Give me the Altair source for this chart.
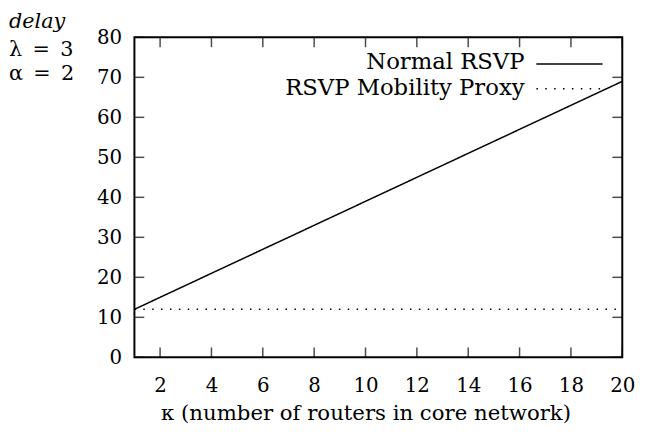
import altair as alt
import pandas as pd

kappa = list(range(1, 21))
normal_rsvp = [12, 15, 18, 21, 24, 27, 30, 33, 36, 39, 42, 45, 48, 51, 54, 57, 60, 63, 66, 69]
proxy_rsvp = [12] * 20
series_names = ["Normal RSVP", "RSVP Mobility Proxy"]
x_ticks = [2, 4, 6, 8, 10, 12, 14, 16, 18, 20]
y_ticks = [0, 10, 20, 30, 40, 50, 60, 70, 80]
x_title = "κ (number of routers in core network)"
side_notes = ["delay", "λ\u2002=\u20023", "α\u2002=\u20022"]

W, H = 494, 324
FONT = "DejaVu Serif"
FS = 20

df = pd.DataFrame({
    "k": kappa * 2,
    "v": normal_rsvp + proxy_rsvp,
    "s": [series_names[0]] * 20 + [series_names[1]] * 20,
})

xscale = alt.Scale(domain=[1, 20], nice=False, zero=False)
yscale = alt.Scale(domain=[0, 80], nice=False)
xaxis = alt.Axis(values=x_ticks, title=x_title, tickSize=0, labelPadding=19,
                 labelFlush=False, titlePadding=7, titleFontSize=21.5, titleX=234,
                 titleAnchor="middle", domain=False, grid=False)
yaxis = alt.Axis(values=y_ticks, title=None, tickSize=0, labelPadding=13,
                 labelFlush=False, domain=False, grid=False)

X = lambda f: alt.X(f, type="quantitative", scale=xscale, axis=xaxis)
Y = lambda f: alt.Y(f, type="quantitative", scale=yscale, axis=yaxis)

lines = alt.Chart(df).mark_line(color="black", strokeWidth=1.5).encode(
    x=X("k"), y=Y("v"),
    strokeDash=alt.StrokeDash("s:N", scale=alt.Scale(domain=series_names, range=[[1, 0], [1.5, 7.5]]), legend=None),
    detail="s:N",
)

xt = pd.DataFrame({"t": x_ticks})
yt = pd.DataFrame({"t": y_ticks})
xtick_b = alt.Chart(xt).mark_tick(orient="vertical", size=10, thickness=1.5, color="black").encode(x=X("t"), y=alt.value(H - 5))
xtick_t = alt.Chart(xt).mark_tick(orient="vertical", size=10, thickness=1.5, color="black").encode(x=X("t"), y=alt.value(5))
ytick_l = alt.Chart(yt).mark_tick(orient="horizontal", size=10, thickness=1.5, color="black").encode(y=Y("t"), x=alt.value(5))
ytick_r = alt.Chart(yt).mark_tick(orient="horizontal", size=10, thickness=1.5, color="black").encode(y=Y("t"), x=alt.value(W - 5))

leg = pd.DataFrame({"s": series_names, "i": [0, 1]})


def leg_text(i, ypx):
    return alt.Chart(leg).transform_filter(alt.datum.i == i).mark_text(
        align="right", baseline="middle", font=FONT, fontSize=23, color="black").encode(
        text="s:N", x=alt.value(W - 99), y=alt.value(ypx))


def leg_line(i, ypx, dash):
    return alt.Chart(leg).transform_filter(alt.datum.i == i).mark_rule(
        color="black", strokeWidth=1.5, strokeDash=dash).encode(
        x=alt.value(W - 87), x2=alt.value(W - 20), y=alt.value(ypx))


notes = pd.DataFrame({"n": side_notes, "i": [0, 1, 2]})


def note(i, ypx, style):
    return alt.Chart(notes).transform_filter(alt.datum.i == i).mark_text(
        align="left", baseline="middle", font=FONT, fontSize=21, fontStyle=style, color="black").encode(
        text="n:N", x=alt.value(-127), y=alt.value(ypx))


chart = alt.layer(
    lines, xtick_b, xtick_t, ytick_l, ytick_r,
    leg_text(0, 25), leg_text(1, 51),
    leg_line(0, 27, [1, 0]), leg_line(1, 52, [1.5, 7.5]),
    note(0, -15, "italic"), note(1, 13, "normal"), note(2, 37, "normal"),
).properties(
    width=W, height=H,
    autosize=alt.AutoSizeParams(type="none"),
    padding={"left": 128, "top": 27, "right": 23, "bottom": 80},
).configure_view(
    stroke="black", strokeWidth=2
).configure_axis(
    labelFont=FONT, titleFont=FONT, labelFontSize=FS,
    labelColor="black", titleColor="black", titleFontWeight="normal",
)

chart.save("out.html", embed_options={"renderer": "svg", "actions": False})
